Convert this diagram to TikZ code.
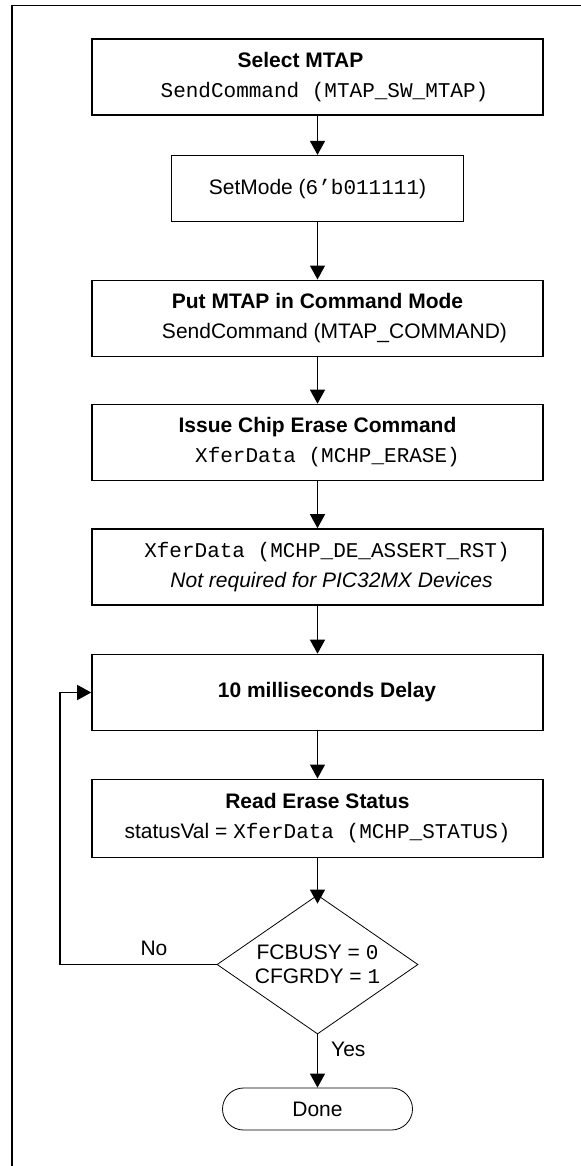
\documentclass[tikz,border=0pt]{standalone}
\usepackage{fontspec}
\setmainfont{Liberation Sans}
\newfontfamily\codefont{Liberation Mono}
\usetikzlibrary{arrows.meta,shapes.geometric,positioning}

\begin{document}
\begin{tikzpicture}[x=0.5pt, y=-0.5pt,
    font=\fontsize{10.5}{15}\selectfont,
    box/.style={draw, line width=0.8pt, rectangle, align=center, inner sep=0pt,
      minimum width=225.5pt, minimum height=38pt},
    cond/.style={draw, line width=0.4pt, diamond, shape aspect=1.45, align=center,
      inner sep=0pt, minimum width=100.5pt, minimum height=69.5pt,
      font=\fontsize{10.5}{12}\selectfont},
    term/.style={draw, line width=0.4pt, rectangle, rounded corners=10.5pt,
      minimum width=95pt, minimum height=21pt},
    flow/.style={-{Triangle[width=7.5pt,length=7pt]}, line width=0.65pt}]
    \useasboundingbox (0,0) rectangle (581,1166);
    \draw[line width=0.8pt] (581,5.5) -- (12,5.5) -- (12,1166);

    \node[box] (sel) at (317.5,77) {{\bfseries Select MTAP}\hspace*{17pt}\mbox{}\\\hspace*{7pt}{\codefont SendCommand (MTAP\_SW\_MTAP)}};
    \node[box, minimum width=146pt, minimum height=33pt] (mode) at (317.5,188.7) {SetMode ({\codefont 6’b011111})};
    \node[box] (cmd) at (317.5,318.3) {{\bfseries Put MTAP in Command Mode}\\\hspace*{17pt}SendCommand (MTAP\_COMMAND)};
    \node[box] (erase) at (317.5,442.5) {{\bfseries Issue Chip Erase Command}\\\hspace*{10pt}{\codefont XferData (MCHP\_ERASE)}};
    \node[box] (rst) at (317.5,567) {\hspace*{9.5pt}{\codefont XferData (MCHP\_DE\_ASSERT\_RST)}\\\hspace*{14pt}{\itshape Not required for PIC32MX Devices}};
    \node[box] (delay) at (317.5,692.5) {\hspace*{9.5pt}{\bfseries 10 milliseconds Delay}};
    \node[box, minimum height=39pt] (read) at (317.5,818.3) {{\bfseries Read Erase Status}\\statusVal = {\codefont XferData (MCHP\_STATUS)}};
    \node[cond] (chk) at (317.5,964.5) {FCBUSY = {\codefont 0}\\CFGRDY = {\codefont 1}};
    \node[term] (done) at (317.5,1109) {Done};
    \coordinate (loopx) at (60,964.5);

    \path[flow] (sel) edge (mode);
    \path[flow] (mode) edge (cmd);
    \path[flow] (cmd) edge (erase);
    \path[flow] (erase) edge (rst);
    \path[flow] (rst) edge (delay);
    \path[flow] (delay) edge (read);
    \path[flow, shorten >=-4.5pt] (read) edge (chk);
    \draw[flow] (chk.west) -- node[above, pos=0.4, inner sep=4pt] (no) {No} (loopx) |- (delay.west);
    \draw[flow] (chk.south) -- node[right, pos=0.28, inner sep=0pt, xshift=6.5pt] (yes) {Yes} (done.north);
  \end{tikzpicture}
\end{document}
